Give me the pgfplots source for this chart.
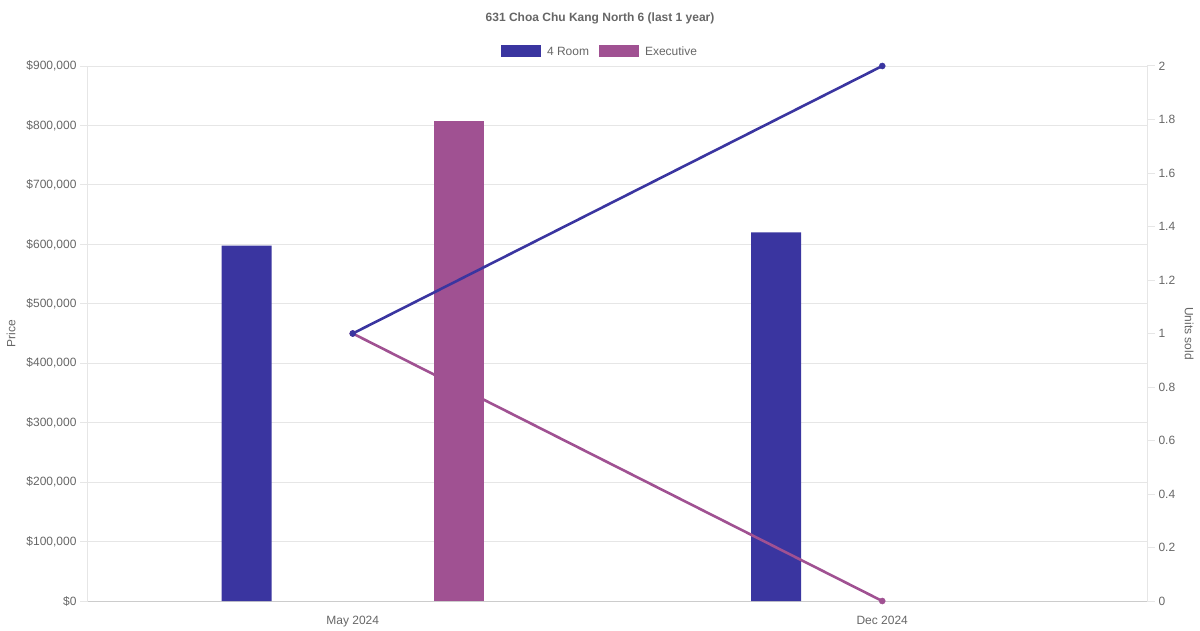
\documentclass[border=0pt]{standalone}
\usepackage{pgfplots}
\pgfplotsset{compat=1.18}
\usepackage{fontspec}
\setmainfont{Liberation Sans}

\definecolor{fourroom}{HTML}{3A35A0}
\definecolor{executive}{HTML}{A05192}
\definecolor{txt}{HTML}{666666}
\definecolor{gridc}{HTML}{E6E6E6}
\definecolor{basec}{HTML}{CCCCCC}

\pgfplotsset{
  chartbase/.style={
    scale only axis, width=1059pt, height=535pt,
    xmin=-0.5, xmax=1.5,
    tick align=outside, major tick length=8pt,
    y tick style={draw=gridc, line width=1pt},
    x tick style={draw=none},
    tick label style={text=txt, font=\fontsize{12}{14}\selectfont},
    /pgf/number format/assume math mode=true,
    scaled y ticks=false,
  },
}

\begin{document}
\begin{tikzpicture}[font=\fontsize{12}{14}\selectfont]
\useasboundingbox (-88pt,-29pt) rectangle (1112pt,601pt);

% prices (bars, left axis)
\begin{axis}[
  chartbase,
  ymin=0, ymax=900000,
  axis x line*=bottom, axis y line*=left,
  x axis line style={draw=basec, line width=1pt, -},
  y axis line style={draw=gridc, line width=1pt, -},
  xtick={0,1}, xticklabels={May 2024, Dec 2024},
  xticklabel style={yshift=-4pt},
  ytick={0,100000,200000,300000,400000,500000,600000,700000,800000,900000},
  yticklabels={{\$0},{\$100,000},{\$200,000},{\$300,000},{\$400,000},{\$500,000},{\$600,000},{\$700,000},{\$800,000},{\$900,000}},
  ymajorgrids, grid style={draw=gridc, line width=1pt},
  ylabel=Price,
  ylabel style={at={(axis description cs:-0.0727,0.5)}, anchor=center, text=txt},
  title={631 Choa Chu Kang North 6 (last 1 year)},
  title style={at={(axis description cs:0.4835,1.0785)}, anchor=center, yshift=0pt,
    text=txt, font=\bfseries\fontsize{12}{14}\selectfont},
  legend style={at={(0.4835,1.0262)}, anchor=center, draw=none, fill=none,
    legend columns=2, text=txt, font=\fontsize{12}{14}\selectfont,
    /tikz/every even column/.append style={column sep=8pt}},
  ybar, bar width=50pt,
  legend image code/.code={\fill[#1] (0pt,-4.5pt) rectangle (40pt,7.5pt);
    \path (44pt,0pt);},
]
\addplot[fill=fourroom, draw=none, bar shift=-106pt, forget plot]
  coordinates {(0,598000) (1,620000)};
\addplot[fill=executive, draw=none, bar shift=106pt, forget plot]
  coordinates {(0,808000)};
\addlegendimage{fill=fourroom, draw=none}
\addlegendentry{4 Room}
\addlegendimage{fill=executive, draw=none}
\addlegendentry{Executive}
\end{axis}

% units sold (lines, right axis)
\begin{axis}[
  chartbase,
  ymin=0, ymax=2,
  clip=false,
  axis x line=none, axis y line*=right,
  y axis line style={draw=gridc, line width=1pt, -},
  ytick={0,0.2,0.4,0.6,0.8,1,1.2,1.4,1.6,1.8,2},
  yticklabels={0,0.2,0.4,0.6,0.8,1,1.2,1.4,1.6,1.8,2},
  ylabel=Units sold,
  every axis y label/.style={at={(axis description cs:1.0397,0.5)}, rotate=-90,
    anchor=center, text=txt},
]
\addplot[executive, line width=2.6pt, mark=*, mark size=3pt,
  mark options={solid, line width=0.5pt}]
  coordinates {(0,1) (1,0)};
\addplot[fourroom, line width=2.6pt, mark=*, mark size=3pt,
  mark options={solid, line width=0.5pt}]
  coordinates {(0,1) (1,2)};
\end{axis}
\end{tikzpicture}
\end{document}
